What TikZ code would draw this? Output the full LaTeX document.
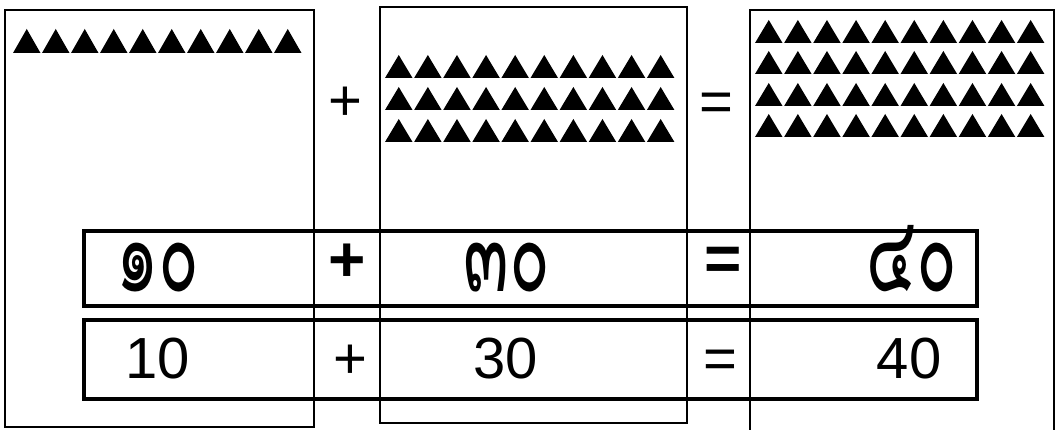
\documentclass[tikz,border=0pt]{standalone}
\usepackage{fontspec}
\setmainfont{Liberation Sans}
\newfontfamily\thaifont[Script=Thai]{Loma}
\newcommand\thaidigits[1]{\scalebox{1.15}[1.85]{\thaifont #1}}
\begin{document}
\begin{tikzpicture}[x=1pt,y=-1pt,
  card/.style={line width=1.6pt},
  rowbox/.style={line width=3.8pt},
  num/.style={font=\fontsize{58}{58}\selectfont, inner sep=0pt, anchor=base,
    text height=42pt, text depth=0pt},
  thainum/.style={font=\fontsize{58}{58}\selectfont, inner sep=0pt, anchor=base,
    text height=44pt, text depth=0pt},
  boldsign/.style={font=\bfseries\fontsize{64}{64}\selectfont, inner sep=0pt, anchor=base,
    text height=36pt, text depth=0pt}]
\useasboundingbox (0,0) rectangle (1057,430);
\draw[card] (5,10) rectangle (314,427);
\draw[card] (380,7) rectangle (687,423);
\draw[card] (750,431) -- (750,10) -- (1054,10) -- (1054,431);
\foreach \i in {0,...,9} {
  \fill (13+29*\i,53) -- ++(27.5,0) -- ++(-13.75,-24) -- cycle;
  \foreach \y in {78,110,142}
    \fill (385+29.1*\i,\y) -- ++(27.5,0) -- ++(-13.75,-23) -- cycle;
  \foreach \y in {43,74,106,137}
    \fill (755+29.1*\i,\y) -- ++(27.5,0) -- ++(-13.75,-23) -- cycle;
}
\node[num] (plustop) at (345,121) {+};
\node[num] (eqtop) at (716,122) {=};
\draw[rowbox] (84,231) rectangle (977,306);
\draw[rowbox] (84,320) rectangle (977,399);
\node[thainum] (thaia) at (158,291) {\thaidigits{๑๐}};
\node[boldsign] (thaiplus) at (347,281) {+};
\node[thainum] (thaib) at (507,291) {\thaidigits{๓๐}};
\node[boldsign] (thaieq) at (723,280) {=};
\node[thainum] (thaic) at (912,291) {\thaidigits{๔๐}};
\node[num] (numa) at (158,378) {10};
\node[num] (numplus) at (350,378) {+};
\node[num] (numb) at (506,378) {30};
\node[num] (numeq) at (720,378) {=};
\node[num] (numc) at (909,378) {40};
\end{tikzpicture}
\end{document}
